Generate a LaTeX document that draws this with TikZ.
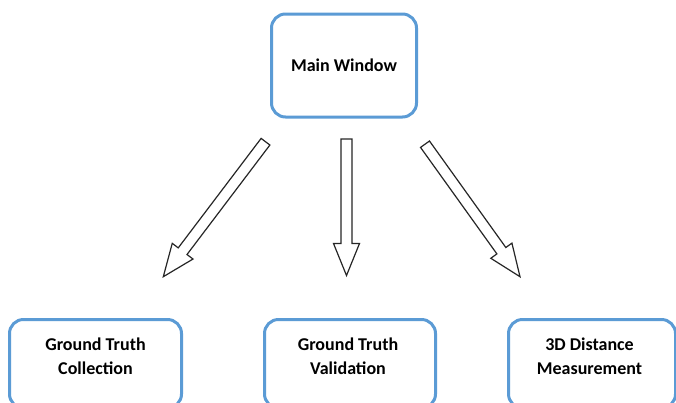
\documentclass[tikz,border=0pt]{standalone}
\usepackage{fontspec}
\setmainfont{Carlito}
\usetikzlibrary{calc}
\definecolor{boxblue}{HTML}{5B9BD5}
\tikzset{
  box/.style={draw=boxblue, line width=3pt, rounded corners=14pt, fill=white, inner sep=0pt},
  boxtext/.style={font=\fontsize{18}{24.5}\selectfont\bfseries, align=center, inner sep=0pt},
  blockarrow/.style={draw=black!85, fill=white, line width=1.2pt, line join=miter},
}
% hollow block arrow from a tail coordinate to a tip coordinate
\newcommand\hollowarrow[2]{%
  \coordinate (hb) at ($(#2)!32pt!(#1)$);
  \draw[blockarrow] ($(#1)!5.5pt!90:(#2)$) -- ($(hb)!5.5pt!90:(#2)$)
    -- ($(hb)!13pt!90:(#2)$) -- (#2) -- ($(hb)!13pt!-90:(#2)$)
    -- ($(hb)!5.5pt!-90:(#2)$) -- ($(#1)!5.5pt!-90:(#2)$) -- cycle;}
\begin{document}
\begin{tikzpicture}[x=1pt,y=1pt]
\useasboundingbox (0,0) rectangle (676,-402);
\clip (0,0) rectangle (676,-402);

% top window
\node[box, boxtext, minimum width=145pt, minimum height=103pt] (main) at (344,-65.5) {Main Window};

% three module boxes
\node[box, minimum width=172pt, minimum height=88.5pt] (gtc) at (95.5,-363.75) {};
\node[box, minimum width=171pt, minimum height=88.5pt] (gtv) at (350,-363.75) {};
\node[box, minimum width=167pt, minimum height=88.5pt] (dist) at (592,-363.75) {};
\node[boxtext] (gtct) at (95.5,-356) {Ground Truth\\Collection};
\node[boxtext] (gtvt) at (348,-356) {Ground Truth\\Validation};
\node[boxtext] (distt) at (589.5,-356) {3D Distance\\Measurement};

% block arrows
\coordinate (a1) at (265.5,-141.7);
\coordinate (b1) at (163.3,-276.7);
\coordinate (a2) at (346.5,-139);
\coordinate (b2) at (346.5,-275.5);
\coordinate (a3) at (425,-144.2);
\coordinate (b3) at (520,-276.7);
\hollowarrow{a1}{b1}
\hollowarrow{a2}{b2}
\hollowarrow{a3}{b3}
\end{tikzpicture}
\end{document}
